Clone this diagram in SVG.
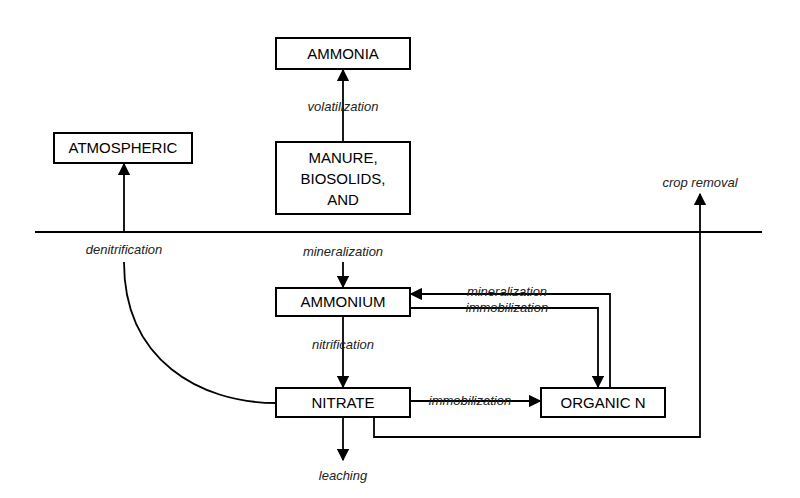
<svg xmlns="http://www.w3.org/2000/svg" width="800" height="498" viewBox="0 0 800 498">
<style>
.box{fill:#fff;stroke:#000;stroke-width:2}
.t{font-family:"Liberation Sans",Arial,sans-serif;font-size:15px;text-anchor:middle;fill:#000}
.l{font-family:"Liberation Sans",Arial,sans-serif;font-size:13px;font-style:italic;text-anchor:middle;fill:#222}
.c{fill:none;stroke:#000;stroke-width:1.8}
</style>
<defs><marker id="a" viewBox="0 0 10 10" refX="9" refY="5" markerWidth="7" markerHeight="7" orient="auto"><path d="M0,0L10,5L0,10z" fill="#000"/></marker></defs>
<rect width="800" height="498" fill="#fff"/>
<g id="connectors">
<line class="c" x1="35" y1="232" x2="762" y2="232"/>
<line class="c" x1="343" y1="142" x2="343" y2="70" marker-end="url(#a)"/>
<line class="c" x1="124" y1="232" x2="124" y2="164" marker-end="url(#a)"/>
<path class="c" d="M124,262 C124,360 200,403 276,403"/>
<line class="c" x1="343" y1="262" x2="343" y2="287" marker-end="url(#a)"/>
<path class="c" d="M610,388 V294 H411" marker-end="url(#a)"/>
<path class="c" d="M410,308 H598 V387" marker-end="url(#a)"/>
<line class="c" x1="343" y1="316" x2="343" y2="387" marker-end="url(#a)"/>
<line class="c" x1="410" y1="401" x2="540" y2="401" marker-end="url(#a)"/>
<line class="c" x1="343" y1="417" x2="343" y2="460" marker-end="url(#a)"/>
<path class="c" d="M374,417 V437 H700 V194" marker-end="url(#a)"/>
</g>
<g id="ammonia"><rect class="box" x="276" y="38" width="134" height="31"/><text class="t" x="343" y="59">AMMONIA</text></g>
<g id="atmospheric"><rect class="box" x="54" y="133" width="138" height="30"/><text class="t" x="123" y="153">ATMOSPHERIC</text></g>
<g id="manure"><rect class="box" x="276" y="142" width="134" height="72"/><text class="t" x="343" y="163">MANURE,</text><text class="t" x="343" y="184">BIOSOLIDS,</text><text class="t" x="343" y="205">AND</text></g>
<g id="ammonium"><rect class="box" x="276" y="288" width="134" height="28"/><text class="t" x="343" y="307">AMMONIUM</text></g>
<g id="nitrate"><rect class="box" x="276" y="388" width="134" height="29"/><text class="t" x="343" y="408">NITRATE</text></g>
<g id="organic"><rect class="box" x="541" y="388" width="124" height="29"/><text class="t" x="603" y="408">ORGANIC N</text></g>
<g id="labels">
<text class="l" x="343" y="111">volatilization</text>
<text class="l" x="124" y="254">denitrification</text>
<text class="l" x="343" y="256">mineralization</text>
<text class="l" x="507" y="296">mineralization</text>
<text class="l" x="507" y="312">immobilization</text>
<text class="l" x="343" y="349">nitrification</text>
<text class="l" x="470" y="405">immobilization</text>
<text class="l" x="343" y="480">leaching</text>
<text class="l" x="700" y="187">crop removal</text>
</g>
</svg>
